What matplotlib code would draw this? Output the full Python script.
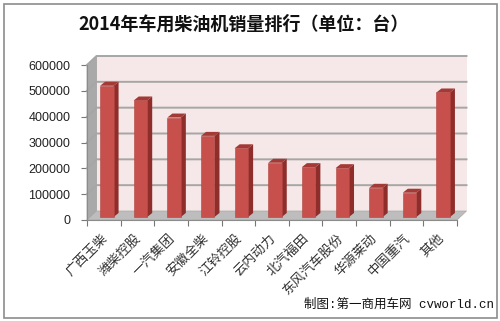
import matplotlib.pyplot as plt
from matplotlib.patches import Polygon, Rectangle
from matplotlib.lines import Line2D

plt.rcParams['font.family'] = ['Noto Sans CJK SC', 'DejaVu Sans']

# data
makers = ['广西玉柴', '潍柴控股', '一汽集团', '安徽全柴', '江铃控股', '云内动力',
          '北汽福田', '东风汽车股份', '华源莱动', '中国重汽', '其他']
sales = [508000, 451000, 385000, 314000, 266000, 210000,
         193000, 189000, 113000, 94000, 482000]
yticks = [0, 100000, 200000, 300000, 400000, 500000, 600000]

W, H = 500, 321
fig = plt.figure(figsize=(W / 100, H / 100), dpi=100)
fig.patch.set_facecolor('white')

# chart border
fig.add_artist(Rectangle((3.5 / W, 3.5 / H), 493 / W, 314 / H, transform=fig.transFigure,
                         fill=False, edgecolor='#8c8c8c', linewidth=1.2))

# front plane of the 3d box
x0, x1, ytop, ybot = 87, 457, 65, 220
ax = fig.add_axes([x0 / W, (H - ybot) / H, (x1 - x0) / W, (ybot - ytop) / H])
ax.set_xlim(-0.5, len(makers) - 0.5)
ax.set_ylim(0, 600000)
ax.patch.set_visible(False)
for s in ax.spines.values():
    s.set_visible(False)

# pixels -> data units
ux = len(makers) / (x1 - x0)
uy = 600000 / (ybot - ytop)

def px(dx, dy):
    return dx * ux, dy * uy

wdx, wdy = px(9.5, 9)   # wall depth
L, R = -0.5, len(makers) - 0.5
top = 600000

# back wall
ax.add_patch(Polygon([(L + wdx, wdy), (R + wdx, wdy), (R + wdx, top + wdy), (L + wdx, top + wdy)],
                     closed=True, facecolor='#f6e8e8', edgecolor='none', clip_on=False, zorder=1))
# left wall
ax.add_patch(Polygon([(L, 0), (L + wdx, wdy), (L + wdx, top + wdy), (L, top)],
                     closed=True, facecolor='#a9a9a9', edgecolor='#999999', lw=0.5,
                     clip_on=False, zorder=1))
# floor
ax.add_patch(Polygon([(L, 0), (R, 0), (R + wdx, wdy), (L + wdx, wdy)],
                     closed=True, facecolor='#bdbdbd', edgecolor='#a8a8a8', lw=0.5,
                     clip_on=False, zorder=1))

# gridlines on walls
for t in yticks[1:]:
    ax.add_line(Line2D([L, L + wdx, R + wdx], [t, t + wdy, t + wdy], color='#a6a6a6',
                       lw=1.4, clip_on=False, zorder=2))

# bars with a bit of depth
bsx, bsy = px(3, 3)
bdx, bdy = px(5, 4)
bw = 13.5 * ux
for i, v in enumerate(sales):
    lft = i + bsx - bw / 2
    rgt = lft + bw
    b = bsy
    tp = v + bsy
    ax.add_patch(Polygon([(rgt, b), (rgt + bdx, b + bdy), (rgt + bdx, tp + bdy), (rgt, tp)],
                         closed=True, facecolor='#8e2d2a', edgecolor='none', clip_on=False, zorder=3))
    ax.add_patch(Polygon([(lft, tp), (rgt, tp), (rgt + bdx, tp + bdy), (lft + bdx, tp + bdy)],
                         closed=True, facecolor='#a33a36', edgecolor='none', clip_on=False, zorder=3))
    ax.bar(i + bsx, v, width=bw, bottom=b, color='#c8504c', edgecolor='#b04440', lw=0.4, zorder=4)

# axes ticks
ax.set_yticks(yticks)
ax.set_yticklabels([str(t) for t in yticks], family='Liberation Sans', fontsize=9, color='#222222')
ax.tick_params(axis='y', length=4, pad=8, color='#777777')
ax.set_xticks([i - 0.5 for i in range(len(makers) + 1)])
ax.set_xticklabels([])
ax.tick_params(axis='x', length=4, color='#777777')
ax.add_line(Line2D([L, L], [0, top], color='#8c8c8c', lw=0.8, clip_on=False, zorder=2))
ax.add_line(Line2D([L, R], [0, 0], color='#8c8c8c', lw=0.8, clip_on=False, zorder=2))

for i, name in enumerate(makers):
    ax.text(i + 0.05, -62000, name, rotation=45, rotation_mode='anchor', ha='right', va='center',
            fontsize=9.5, color='#333333')

fig.text(244 / W, 1 - 24 / H, '2014年车用柴油机销量排行（单位：台）', ha='center', va='center',
         fontsize=13, fontweight='bold', color='#111111')
fig.text(494 / W, 1 - 305 / H, '制图:第一商用车网 cvworld.cn', ha='right', va='center',
         fontsize=9, family=['Liberation Mono', 'Noto Sans CJK SC'], color='#111111')

fig.savefig('out.png', dpi=100)
